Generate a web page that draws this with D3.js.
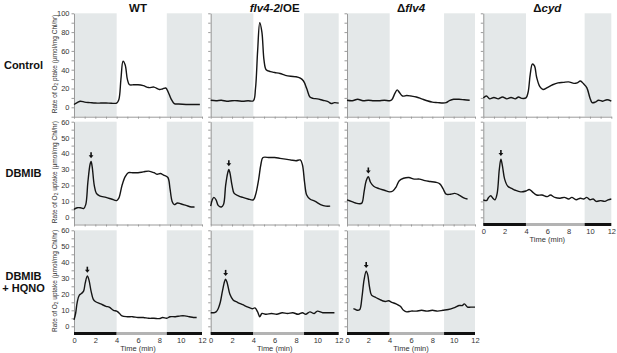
<!DOCTYPE html>
<html>
<head>
<meta charset="utf-8">
<script src="https://cdn.jsdelivr.net/npm/d3@7"></script>
<style>
  body { margin: 0; background: #fff; }
  svg { display: block; font-family: "Liberation Sans", Arial, sans-serif; }
</style>
</head>
<body>
<svg id="chart" width="617" height="353"></svg>
<script>
// strains (columns) and treatments (rows)
const strainTitles = [
  [['WT', false]],
  [['flv4-2', true], ['/OE', false]],
  [['Δ', false], ['flv4', true]],
  [['Δ', false], ['cyd', true]]
];
const treatmentLabels = [['Control'], ['DBMIB'], ['DBMIB', '+ HQNO']];

// dark periods: 0-4 min, then again from lightOff (min) to the end
const darkStart = 4;
const lightOff = [8.7, 8.75, 9.1, 9.5];
const timeEnd = 12;

// y domains and ticks per row
const yDomains = [[-10, 100], [-4.5, 60], [-4.5, 60]];
const yTickStep = [10, 5, 5];
const yLabelStep = [20, 10, 10];
const timeLabels = [0, 2, 4, 6, 8, 10, 12];

// O2 uptake traces, [time (min), rate]
const wtControl = [[0,3],[0.3,5],[0.6,6.5],[1,5.5],[1.5,5],[2,4.5],[2.5,4.5],[3,4.6],[3.5,4.3],[4,4.5],[4.2,8],[4.4,30],[4.6,49],[4.8,45],[5,30],[5.2,24],[5.6,24],[6,24],[6.5,23],[7,21],[7.5,21.5],[8,19],[8.3,19.5],[8.6,20.5],[8.8,17],[9.1,9],[9.4,4],[9.8,3.5],[10.5,3],[11,3],[11.8,3]];
const oeControl = [[0,7.5],[0.5,7],[1,7.5],[1.5,6.5],[2,7],[2.5,7],[3,6.5],[3.5,7],[4,7],[4.2,20],[4.4,60],[4.6,90],[4.8,80],[5,50],[5.2,40],[5.6,38],[6,37],[6.5,36],[7,34],[7.5,33],[8,32.5],[8.4,31],[8.7,28],[9,20],[9.3,11],[9.6,9.5],[10,9],[10.5,7.5],[11,6],[11.3,4],[11.6,5],[12,4.5]];
const dflv4Control = [[0,7.5],[0.5,7],[1,8.5],[1.5,7],[2,7.5],[2.5,7],[3,7],[3.5,7.5],[4,7],[4.2,8],[4.5,15],[4.7,18.5],[4.9,16],[5.2,12],[5.6,12.5],[6,12],[6.5,11],[7,9],[7.5,7],[8,5.5],[8.5,5],[9,4.5],[9.3,5],[9.6,7],[10,8.5],[10.5,8.5],[11,8],[11.5,7.5]];
const dcydControl = [[0,10],[0.3,12],[0.6,9],[1,10.5],[1.4,9],[1.8,11],[2.2,9],[2.6,10.5],[3,9],[3.3,11],[3.6,9.5],[4,10],[4.2,16],[4.4,35],[4.6,46],[4.8,44],[5,32],[5.3,22],[5.6,19],[6,21],[6.5,24],[7,26],[7.5,26.5],[8,27],[8.5,25.5],[8.8,26],[9.1,28],[9.4,25],[9.7,21],[10,10],[10.2,5],[10.5,5.5],[10.8,7.5],[11.2,6.5],[11.6,8],[12,6.5]];

const wtDbmib = [[0,5],[0.3,6],[0.6,6],[0.9,5.5],[1.1,8],[1.3,22],[1.5,33],[1.6,35],[1.7,32],[1.9,20],[2.1,15],[2.4,13.5],[3,12.5],[3.5,11.5],[4,10.5],[4.2,12],[4.5,20],[4.8,25.5],[5.1,28],[5.5,28],[6,28],[6.5,28.5],[7,29],[7.5,28],[7.8,27],[8.1,27.5],[8.4,26.5],[8.8,25],[9,18],[9.2,10],[9.4,8],[9.7,9],[10,8.5],[10.5,7.5],[11,6.5],[11.3,6.5]];
const oeDbmib = [[0,7],[0.15,11],[0.3,12.5],[0.5,11],[0.7,7.5],[1,6.5],[1.2,8],[1.4,20],[1.6,28],[1.7,30],[1.8,28],[2,20],[2.2,15],[2.6,13.5],[3,12.5],[3.5,11.5],[4,11],[4.2,14],[4.5,24],[4.7,33],[4.9,37.5],[5.5,37.5],[6,37.5],[6.5,37],[7,36.5],[7.5,36],[8,35.5],[8.4,36],[8.6,33],[8.8,22],[9,14],[9.3,11.5],[9.8,10],[10.3,8],[10.8,7],[11.2,7]];
const dflv4Dbmib = [[0,11],[0.4,10],[0.8,9],[1.2,8.5],[1.4,9],[1.6,16],[1.8,23],[2,25.5],[2.2,22],[2.5,19.5],[3,18],[3.5,17],[4,16],[4.3,16.5],[4.6,19],[4.9,23],[5.3,24.5],[5.8,25],[6.3,24],[6.8,24],[7.3,23],[7.8,22.5],[8.3,22],[8.7,21],[9,18],[9.3,14.5],[9.7,14.5],[10.1,15],[10.5,14],[11,12],[11.3,11.5]];
const dcydDbmib = [[0,11],[0.3,10.5],[0.5,12.5],[0.7,13.5],[0.9,12],[1.1,11],[1.3,15],[1.5,30],[1.65,36.5],[1.8,32],[2,24],[2.3,19.5],[2.7,18],[3,17],[3.5,16],[4,16.5],[4.3,17.5],[4.6,16],[5,14],[5.5,14],[6,13],[6.3,14],[6.7,12.5],[7.2,12],[7.6,12.5],[8,11.5],[8.3,12.5],[8.7,11],[9.1,12],[9.4,11.5],[9.7,12.5],[10,11],[10.3,11.5],[10.6,10],[11,10.5],[11.4,10],[11.7,11],[12,11.5]];

const wtHqno = [[0,4],[0.15,8],[0.3,15],[0.5,19.5],[0.7,20.5],[0.9,22],[1.05,27],[1.25,31.5],[1.4,29],[1.6,22],[1.8,17],[2,15.5],[2.5,14],[3,12.5],[3.3,12],[3.7,10],[4,9.5],[4.2,8.5],[4.5,6.5],[5,6],[5.5,6],[6,5.5],[6.5,5.5],[7,5],[7.5,5],[8,4.8],[8.3,5.5],[8.7,5],[9,6],[9.5,6],[10,6.5],[10.4,6.5],[10.8,6],[11.2,5.5],[11.5,5.5]];
const oeHqno = [[0,8.5],[0.3,8.5],[0.5,9],[0.7,11],[0.9,15],[1.1,22],[1.3,28],[1.4,29.5],[1.55,27],[1.8,20],[2.1,16.5],[2.5,15],[3,13.5],[3.5,12],[3.9,11],[4.15,11.5],[4.4,9],[4.6,6],[4.8,8],[5.2,7.5],[5.7,8],[6.2,7.5],[6.7,8.5],[7.2,8],[7.7,8.5],[8.2,7.5],[8.6,8.5],[8.9,7.5],[9.3,9],[9.7,8],[10,9.5],[10.5,8.5],[11,8.5],[11.6,8.5]];
const dflv4Hqno = [[0.6,11],[0.8,10.5],[1,10],[1.2,10.5],[1.4,18],[1.6,29],[1.8,34.5],[1.95,32],[2.1,25],[2.3,19.5],[2.7,18],[3,17],[3.3,16],[3.6,15.5],[3.9,16],[4.2,15],[4.6,14],[5,12.5],[5.3,10],[5.6,9],[6,9.5],[6.5,9.5],[7,10],[7.5,9.5],[8,10],[8.5,9.5],[9,10],[9.5,10.5],[10,11.5],[10.5,13],[10.8,13],[11,14],[11.3,12],[11.6,12],[12,12]];

const traces = [
  [wtControl, oeControl, dflv4Control, dcydControl],
  [wtDbmib, oeDbmib, dflv4Dbmib, dcydDbmib],
  [wtHqno, oeHqno, dflv4Hqno, null]
];

// layout
const colLeft = [74, 210.7, 347, 483.3];
const panelW = 128;
const rowTop = [13.3, 121.7, 230.3];
const rowBottom = [116.7, 224.5, 333.5];
const shade = '#e4e8e9';
const axisGrey = '#9a9a9a';

const svg = d3.select('#chart');

// column titles
strainTitles.forEach((parts, c) => {
  const t = svg.append('text')
    .attr('x', colLeft[c] + panelW / 2)
    .attr('y', 11.5)
    .attr('text-anchor', 'middle')
    .attr('font-size', 11.5)
    .attr('font-weight', 'bold')
    .attr('fill', '#111');
  parts.forEach(p => t.append('tspan').text(p[0]).attr('font-style', p[1] ? 'italic' : 'normal'));
});

// row labels
treatmentLabels.forEach((lines, r) => {
  const mid = (rowTop[r] + rowBottom[r]) / 2;
  const t = svg.append('text')
    .attr('text-anchor', 'middle')
    .attr('font-size', 11)
    .attr('font-weight', 'bold')
    .attr('fill', '#111');
  lines.forEach((l, i) => {
    t.append('tspan')
      .attr('x', 23.5)
      .attr('y', mid + 4 - (lines.length - 1) * 6 + i * 12)
      .text(l);
  });

  // y axis title
  const yt = svg.append('text')
    .attr('transform', `translate(56.5,${mid - 1}) rotate(-90)`)
    .attr('text-anchor', 'middle')
    .attr('font-size', 6.5)
    .attr('fill', '#333');
  yt.append('tspan').text('Rate of O');
  yt.append('tspan').text('2').attr('font-size', 4.8).attr('dy', 1.5);
  yt.append('tspan').text(r === 0 ? ' ptake (µmol/mg Chl/hr)' : ' uptake (µmol/mg Chl/hr)').attr('dy', -1.5);
});

const line = d3.line().curve(d3.curveCatmullRom.alpha(0.5));

traces.forEach((row, r) => row.forEach((data, c) => {
  if (!data) return;
  const x = d3.scaleLinear().domain([0, timeEnd]).range([colLeft[c], colLeft[c] + panelW]);
  const y = d3.scaleLinear().domain(yDomains[r]).range([rowBottom[r], rowTop[r]]);
  const isLast = r === 2 || traces[r + 1][c] === null;
  const g = svg.append('g');

  // dark period shading
  g.selectAll('rect.dark')
    .data([[0, darkStart], [lightOff[c], timeEnd]])
    .join('rect')
    .attr('x', d => x(d[0]))
    .attr('width', d => x(d[1]) - x(d[0]))
    .attr('y', rowTop[r])
    .attr('height', rowBottom[r] - rowTop[r])
    .attr('fill', shade);

  // y axis
  const yTicks = d3.range(Math.ceil(yDomains[r][0] / yTickStep[r]) * yTickStep[r], yDomains[r][1] + 0.1, yTickStep[r]);
  const yAxisG = g.append('g')
    .attr('transform', `translate(${x(0)},0)`)
    .call(d3.axisLeft(y).tickValues(yTicks).tickSize(2.5).tickSizeOuter(0).tickPadding(2)
      .tickFormat(d => (c === 0 && d >= 0 && d % yLabelStep[r] === 0) ? d : ''));
  yAxisG.selectAll('path, line').attr('stroke', axisGrey);
  yAxisG.selectAll('text').attr('font-size', 7.5).attr('fill', '#333').attr('font-family', null);

  // x axis
  if (!isLast) {
    const xAxisG = g.append('g')
      .attr('transform', `translate(0,${rowBottom[r]})`)
      .call(d3.axisBottom(x).tickValues(d3.range(0, timeEnd + 1)).tickSize(2).tickSizeOuter(0).tickFormat(''));
    xAxisG.selectAll('path, line').attr('stroke', axisGrey);
  } else {
    const xAxisG = g.append('g')
      .attr('transform', `translate(0,${rowBottom[r]})`)
      .call(d3.axisBottom(x).tickValues(timeLabels).tickSize(0).tickPadding(4));
    xAxisG.select('.domain').remove();
    xAxisG.selectAll('text').attr('font-size', 7.5).attr('fill', '#333').attr('font-family', null);

    // light/dark bar
    g.selectAll('rect.bar')
      .data([[0, darkStart, '#111'], [darkStart, lightOff[c], '#b3b3b3'], [lightOff[c], timeEnd, '#111']])
      .join('rect')
      .attr('x', d => x(d[0]))
      .attr('width', d => x(d[1]) - x(d[0]))
      .attr('y', rowBottom[r] - 1.5)
      .attr('height', 3)
      .attr('fill', d => d[2]);

    g.append('text')
      .attr('x', x(timeEnd / 2))
      .attr('y', rowBottom[r] + 17)
      .attr('text-anchor', 'middle')
      .attr('font-size', 7.5)
      .attr('fill', '#333')
      .text('Time (min)');
  }

  // trace
  g.append('path')
    .datum(data.map(d => [x(d[0]), y(d[1])]))
    .attr('d', line)
    .attr('fill', 'none')
    .attr('stroke', '#151515')
    .attr('stroke-width', 1.4)
    .attr('stroke-linejoin', 'round');

  // arrow over the DBMIB-induced peak
  if (r > 0) {
    const peak = d3.greatest(data.filter(d => d[0] < 3), d => d[1]);
    const px = x(peak[0]), tip = y(peak[1]) - 3.2;
    g.append('line')
      .attr('x1', px).attr('x2', px)
      .attr('y1', tip - 6).attr('y2', tip - 2)
      .attr('stroke', '#111').attr('stroke-width', 1.6);
    g.append('path')
      .attr('d', `M${px - 2.4},${tip - 3}L${px + 2.4},${tip - 3}L${px},${tip}Z`)
      .attr('fill', '#111');
  }
}));
</script>
</body>
</html>
